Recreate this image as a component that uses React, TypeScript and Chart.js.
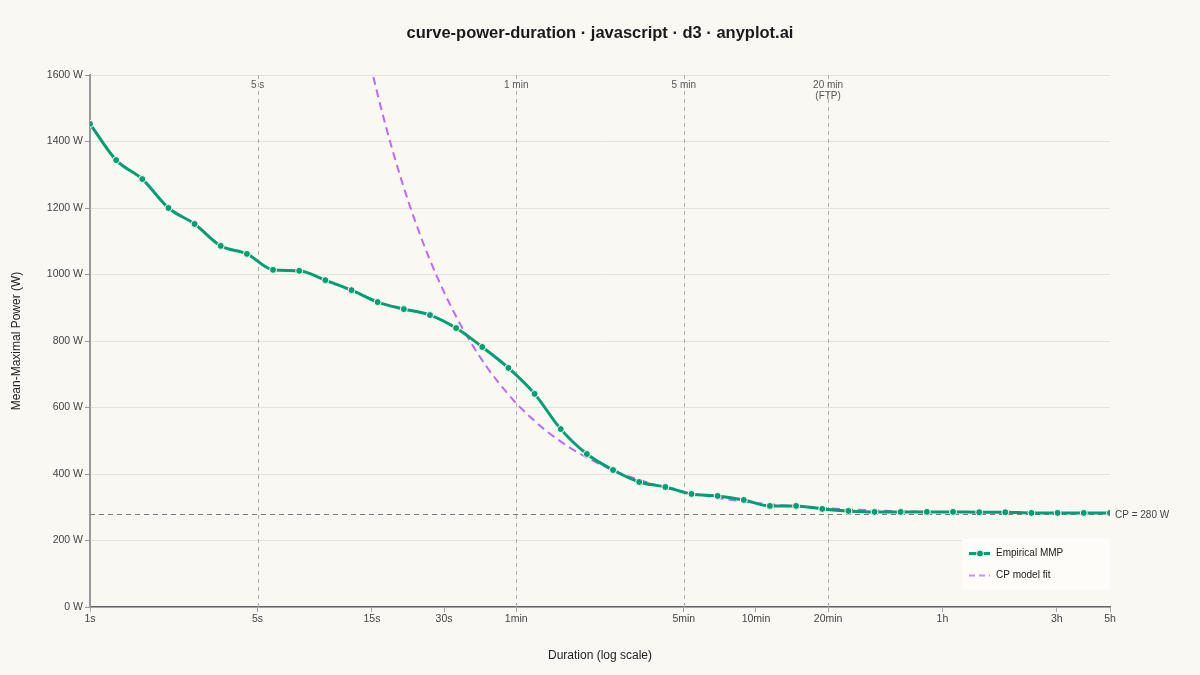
import React, { useEffect, useRef } from "react";
import { Chart, registerables } from "chart.js";

Chart.register(...registerables);

// Empirical mean-maximal power: durations (s) and power (W)
const durations: number[] = [
  1, 1.286, 1.653, 2.125, 2.731, 3.511, 4.514, 5.803, 7.46, 9.59,
  12.33, 15.85, 20.38, 26.2, 33.68, 43.3, 55.67, 71.57, 92.01, 118.3,
  152.1, 195.5, 251.3, 323.1, 415.4, 534.0, 686.5, 882.6, 1134.7, 1458.7,
  1875.3, 2410.9, 3099.4, 3984.6, 5122.6, 6585.6, 8466.4, 10884, 13993, 18000,
];
const mmpWatts: number[] = [
  1453, 1344, 1287, 1200, 1152, 1086, 1062, 1014, 1011, 983,
  953, 917, 896, 878, 839, 782, 719, 641, 535, 460,
  412, 376, 361, 340, 334, 322, 304, 304, 295, 289,
  286, 286, 286, 286, 285, 285, 283, 283, 283, 283,
];

// CP model fit curve
const modelDurations: number[] = [
  14, 15, 17, 20, 23, 26, 30, 35, 40, 45, 50, 60, 70, 80, 100, 120, 150, 180,
  240, 300, 400, 500, 600, 800, 1000, 1200, 1500, 1800, 2400, 3000,
];
const modelWatts: number[] = [
  1709, 1613, 1456, 1280, 1150, 1049, 947, 851, 780, 724, 680, 613, 566, 530,
  480, 447, 413, 391, 363, 347, 330, 320, 313, 305, 300, 297, 293, 291, 288, 287,
];

const criticalPower = 280;

const xTickValues: number[] = [1, 5, 15, 30, 60, 300, 600, 1200, 3600, 10800, 18000];
const xTickLabels: string[] = ["1s", "5s", "15s", "30s", "1min", "5min", "10min", "20min", "1h", "3h", "5h"];

const markerDurations: number[] = [5, 60, 300, 1200];
const markerLabels: string[][] = [["5 s"], ["1 min"], ["5 min"], ["20 min", "(FTP)"]];

const yTicks: number[] = [0, 200, 400, 600, 800, 1000, 1200, 1400, 1600];

const BG = "#faf8f2";
const GREEN = "#009e73";
const PURPLE = "#b86bff";
const FONT = "'Liberation Sans', Arial, Helvetica, sans-serif";

const annotationPlugin = {
  id: "annotations",
  beforeDraw(chart: any) {
    const ctx = chart.ctx;
    ctx.save();
    ctx.fillStyle = BG;
    ctx.fillRect(0, 0, chart.width, chart.height);
    ctx.restore();
  },
  beforeDatasetsDraw(chart: any) {
    const { ctx, chartArea } = chart;
    const xs = chart.scales.x;
    const ys = chart.scales.y;
    ctx.save();
    // vertical markers
    ctx.strokeStyle = "#b0ada6";
    ctx.lineWidth = 1;
    ctx.setLineDash([4, 4]);
    markerDurations.forEach((d) => {
      const px = Math.round(xs.getPixelForValue(d)) + 0.5;
      ctx.beginPath();
      ctx.moveTo(px, chartArea.top);
      ctx.lineTo(px, chartArea.bottom);
      ctx.stroke();
    });
    // CP line
    const cy = Math.round(ys.getPixelForValue(criticalPower)) + 0.5;
    ctx.strokeStyle = "#7a7a7a";
    ctx.lineWidth = 1.2;
    ctx.setLineDash([5, 4]);
    ctx.beginPath();
    ctx.moveTo(chartArea.left, cy);
    ctx.lineTo(chartArea.right, cy);
    ctx.stroke();
    ctx.setLineDash([]);
    // marker labels
    ctx.fillStyle = "#555";
    ctx.font = `10px ${FONT}`;
    ctx.textAlign = "center";
    ctx.textBaseline = "middle";
    markerDurations.forEach((d, i) => {
      const px = xs.getPixelForValue(d);
      markerLabels[i].forEach((t, j) => {
        ctx.fillText(t, px, chartArea.top + 10.5 + j * 11);
      });
    });
    // CP label
    ctx.fillStyle = "#444";
    ctx.textAlign = "left";
    ctx.fillText(`CP = ${criticalPower} W`, chartArea.right + 5, cy + 0.5);
    ctx.restore();
  },
  afterDraw(chart: any) {
    const { ctx, chartArea } = chart;
    ctx.save();
    // title
    ctx.fillStyle = "#1a1a1a";
    ctx.font = `bold 16.5px ${FONT}`;
    ctx.textAlign = "center";
    ctx.textBaseline = "middle";
    ctx.fillText("curve-power-duration · javascript · d3 · anyplot.ai", 600, 33);
    // axis titles
    ctx.font = `12px ${FONT}`;
    ctx.fillStyle = "#222";
    ctx.fillText("Duration (log scale)", (chartArea.left + chartArea.right) / 2, 656);
    ctx.save();
    ctx.translate(17, (chartArea.top + chartArea.bottom) / 2);
    ctx.rotate(-Math.PI / 2);
    ctx.fillText("Mean-Maximal Power (W)", 0, 0);
    ctx.restore();
    // legend
    const lx = 962, ly = 539, lw = 148, lh = 50;
    ctx.fillStyle = "#fefcf8";
    ctx.fillRect(lx, ly, lw, lh);
    const row1 = ly + 14.5, row2 = ly + 36.5;
    ctx.strokeStyle = GREEN;
    ctx.lineWidth = 3;
    ctx.beginPath();
    ctx.moveTo(lx + 7, row1);
    ctx.lineTo(lx + 28, row1);
    ctx.stroke();
    ctx.fillStyle = GREEN;
    ctx.strokeStyle = BG;
    ctx.lineWidth = 1;
    ctx.beginPath();
    ctx.arc(lx + 18, row1, 3.5, 0, Math.PI * 2);
    ctx.fill();
    ctx.stroke();
    ctx.strokeStyle = "rgba(184,107,255,0.75)";
    ctx.lineWidth = 2;
    ctx.setLineDash([6, 4]);
    ctx.beginPath();
    ctx.moveTo(lx + 7, row2);
    ctx.lineTo(lx + 28, row2);
    ctx.stroke();
    ctx.setLineDash([]);
    ctx.fillStyle = "#222";
    ctx.font = `10px ${FONT}`;
    ctx.textAlign = "left";
    ctx.fillText("Empirical MMP", lx + 34, row1);
    ctx.fillText("CP model fit", lx + 34, row2);
    ctx.restore();
  },
};

export default function App() {
  const canvasRef = useRef<HTMLCanvasElement | null>(null);

  useEffect(() => {
    document.body.style.margin = "0";
    document.body.style.background = BG;
    const canvas = canvasRef.current;
    if (!canvas) return;
    const chart = new Chart(canvas, {
      type: "line",
      data: {
        datasets: [
          {
            label: "Empirical MMP",
            data: durations.map((d, i) => ({ x: d, y: mmpWatts[i] })),
            borderColor: GREEN,
            borderWidth: 3,
            backgroundColor: GREEN,
            pointRadius: 3.5,
            pointBackgroundColor: GREEN,
            pointBorderColor: BG,
            pointBorderWidth: 1,
            cubicInterpolationMode: "monotone",
            fill: false,
            order: 0,
          },
          {
            label: "CP model fit",
            data: modelDurations.map((d, i) => ({ x: d, y: modelWatts[i] })),
            borderColor: PURPLE,
            borderWidth: 2,
            borderDash: [8, 5],
            pointRadius: 0,
            cubicInterpolationMode: "monotone",
            fill: false,
            order: 1,
          },
        ],
      },
      options: {
        animation: false,
        responsive: true,
        maintainAspectRatio: false,
        layout: { padding: { top: 75, right: 90, left: 0, bottom: 0 } },
        plugins: {
          legend: { display: false },
          title: { display: false },
          tooltip: { enabled: false },
        },
        scales: {
          x: {
            type: "logarithmic",
            min: 1,
            max: 18000,
            afterBuildTicks: (scale: any) => {
              scale.ticks = xTickValues.map((v) => ({ value: v }));
            },
            afterFit: (scale: any) => {
              scale.height = 68;
            },
            ticks: {
              autoSkip: false,
              maxRotation: 0,
              padding: 1,
              color: "#444",
              font: { family: FONT, size: 10.5 },
              callback: (value: any) => {
                const idx = xTickValues.indexOf(Number(value));
                return idx >= 0 ? xTickLabels[idx] : "";
              },
            },
            grid: {
              drawOnChartArea: false,
              drawTicks: true,
              tickLength: 5,
              tickColor: "#aaa",
            },
            border: { color: "#666", width: 1.5 },
          },
          y: {
            type: "linear",
            min: 0,
            max: 1600,
            afterBuildTicks: (scale: any) => {
              scale.ticks = yTicks.map((v) => ({ value: v }));
            },
            afterFit: (scale: any) => {
              scale.width = 90;
            },
            ticks: {
              padding: 2,
              color: "#444",
              font: { family: FONT, size: 10.5 },
              callback: (value: any) => `${value} W`,
            },
            grid: {
              color: "#e6e2da",
              lineWidth: 1,
              tickLength: 5,
              tickColor: "#999",
            },
            border: { color: "#999", width: 2 },
          },
        },
      },
      plugins: [annotationPlugin],
    });
    return () => chart.destroy();
  }, []);

  return (
    <div style={{ position: "absolute", left: 0, top: 0, width: 1200, height: 675, background: BG }}>
      <canvas ref={canvasRef} />
    </div>
  );
}
